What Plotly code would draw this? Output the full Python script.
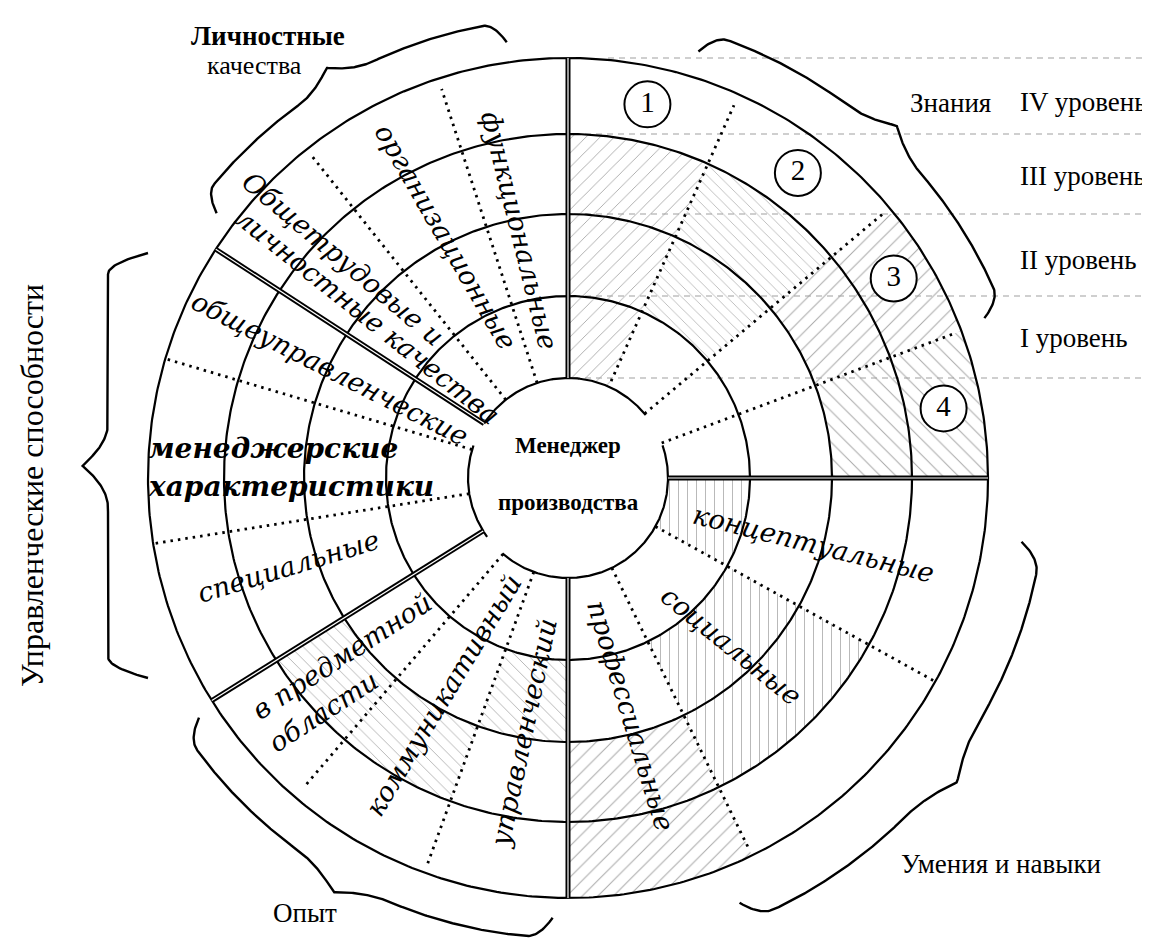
import numpy as np
import plotly.graph_objects as go

# ---------------- data (labels / categories) ----------------
center_label = ["Менеджер", "производства"]
personal_items = ["функциональные", "организационные", "Общетрудовые и", "личностные качества"]
managerial_items = ["общеуправленческие", "менеджерские", "характеристики", "специальные"]
experience_items = ["в предметной", "области", "коммуникативный", "управленческий"]
skills_items = ["профессиальные", "социальные", "концептуальные"]
knowledge_numbers = ["1", "2", "3", "4"]
level_labels = ["IV уровень", "III уровень", "II уровень", "I уровень"]
group_labels = ["Личностные", "качества", "Знания", "Умения и навыки", "Опыт",
                "Управленческие способности"]
ring_radii = [100, 182, 264, 344, 420]

# ---------------- geometry / layout constants ----------------
W, H = 1150, 951
CX, CY = 560, 470
R_IN, R_OUT = ring_radii[0], ring_radii[-1]


def P(r, deg):
    a = np.radians(deg)
    return CX + np.asarray(r) * np.cos(a), CY - np.asarray(r) * np.sin(a)


def arc(r, a0, a1, n=240):
    t = np.linspace(a0, a1, n)
    return P(r, t)


fig = go.Figure()


def add_line(xs, ys, color="black", width=2.0, dash="solid"):
    fig.add_trace(go.Scatter(x=list(xs), y=list(ys), mode="lines",
                             line=dict(color=color, width=width, dash=dash),
                             hoverinfo="skip", showlegend=False))


def sector_poly(a0, a1, r0, r1, n=90):
    xo, yo = arc(r1, a0, a1, n)
    xi, yi = arc(r0, a1, a0, n)
    return np.concatenate([xo, xi]), np.concatenate([yo, yi])


def clip_y_min(xs, ys, ymin):
    pts = list(zip(xs, ys))
    out = []
    for i in range(len(pts)):
        cur, prev = pts[i], pts[i - 1]
        cin, pin = cur[1] >= ymin, prev[1] >= ymin
        if cin != pin:
            t = (ymin - prev[1]) / (cur[1] - prev[1])
            out.append((prev[0] + t * (cur[0] - prev[0]), ymin))
        if cin:
            out.append(cur)
    return [p[0] for p in out], [p[1] for p in out]


# ---------------- hatched regions ----------------
level_y = [CY - r for r in ring_radii]  # heights of knowledge levels
hatch_regions = [
    (66, 90, 100, 344, "/", None, 10),
    (40, 66, 182, 344, "\\", None, 8),
    (20.5, 40, 264, 420, "/", level_y[2], 11),
    (0, 20.5, 264, 420, "\\", None, 11),
    (-29, 0, 100, 182, "|", None, 9),
    (-64, -29, 182, 344, "|", None, 9),
    (-90, -64, 264, 420, "/", None, 11),
    (212, 250, 264, 344, "\\", None, 9),
    (250, 270, 182, 264, "\\", None, 9),
]
for a0, a1, r0, r1, shp, ycl, sz in hatch_regions:
    xs, ys = sector_poly(a0, a1, r0, r1)
    if ycl is not None:
        xs, ys = clip_y_min(xs, ys, ycl)
    fig.add_trace(go.Scatter(
        x=list(xs), y=list(ys), mode="lines", fill="toself",
        line=dict(width=0, color="rgba(0,0,0,0)"),
        fillcolor="rgba(255,255,255,0)",
        fillpattern=dict(shape=shp, fgcolor="#a8a8a8", bgcolor="rgba(255,255,255,0)",
                         size=sz, solidity=0.09, fillmode="replace"),
        hoverinfo="skip", showlegend=False))

# ---------------- dashed level lines (right) ----------------
for i, yv in enumerate(level_y[::-1]):
    x0 = 600 if i == 0 else 566
    add_line([x0, W], [yv, yv], color="#a0a0a0", width=1.2, dash="6px,5px")

# ---------------- rings ----------------
for r in ring_radii[1:]:
    xs, ys = arc(r, 0, 360, 600)
    add_line(xs, ys, width=2.2)
for a0, a1 in [(-131, 19), (39, 147), (161, 216)]:
    xs, ys = arc(R_IN, a0, a1, 200)
    add_line(xs, ys, width=2.2)

# ---------------- dotted dividers ----------------
dotted = [(66, 106, 408), (40, 100, 411), (20.5, 100, 414),
          (-29, 100, 418), (-64, 100, 412),
          (229.5, 100, 407), (250, 100, 415),
          (163.5, 100, 418), (189, 100, 418),
          (108, 100, 409), (128.5, 100, 413)]
for ang, r0, r1 in dotted:
    xs, ys = P([r0, r1], ang)
    add_line(xs, ys, width=2.8, dash="2.5px,5px")

# ---------------- double main dividers ----------------
for ang in [90, 0, -90, 147, 212]:
    xs, ys = P([R_IN, R_OUT], ang)
    add_line(xs, ys, color="black", width=5)
    add_line(xs, ys, color="white", width=1.2)

# ---------------- numbered circles ----------------
num_angles = [78, 53, 31.5, 10.5]
nx, ny = P(382, np.array(num_angles))
fig.add_trace(go.Scatter(
    x=list(nx), y=list(ny), mode="markers+text", text=knowledge_numbers,
    textposition="middle center",
    textfont=dict(family="Liberation Serif", size=29, color="black"),
    marker=dict(size=46, color="white", line=dict(color="black", width=2)),
    hoverinfo="skip", showlegend=False))


# ---------------- braces ----------------
def brace_profile(n, A, B, e=0.06, m=0.12):
    s = np.linspace(0, 1, n)
    u = np.minimum(s, 1 - s)
    d = A * (1 - (1 - np.clip(u / e, 0, 1)) ** 2) + B * np.clip((u - (0.5 - m)) / m, 0, 1) ** 2
    return s, d


def polar_brace(a0, a1, r0, A=20, B=16):
    s, d = brace_profile(400, A, B)
    xs, ys = P(r0 + d, a0 + s * (a1 - a0))
    add_line(xs, ys, width=2.4)


polar_brace(143, 98, 440)
polar_brace(73, 21, 446)
polar_brace(-8, -68, 458)
polar_brace(213, 268, 440)
s, d = brace_profile(400, 40, 26, e=0.05, m=0.1)
add_line(140 - d, 245 + s * 425, width=2.4)


# ---------------- texts ----------------
def label(x, y, text, angle=0, size=28, family="DejaVu Serif", style="italic",
          weight="normal", xanchor="center"):
    fig.add_annotation(x=x, y=y, xref="x", yref="y", text=text, textangle=angle,
                       showarrow=False, xanchor=xanchor, yanchor="middle",
                       font=dict(family=family, size=size, color="black",
                                 style=style, weight=weight))


item_layout = {
    "функциональные": (512, 222, 76, 27, "normal"),
    "организационные": (438, 228, 60, 27, "normal"),
    "Общетрудовые и": (335, 250, 40, 27, "normal"),
    "личностные качества": (360, 308, 38.5, 27, "normal"),
    "общеуправленческие": (322, 360, 27, 27, "normal"),
    "менеджерские": (265, 440, 0, 28, "bold"),
    "характеристики": (283, 478, 0, 28, "bold"),
    "специальные": (280, 558, -17, 27, "normal"),
    "в предметной": (333, 648, -33, 27, "normal"),
    "области": (315, 703, -33, 27, "normal"),
    "коммуникативный": (435, 687, -59, 27, "normal"),
    "управленческий": (515, 725, -78, 27, "normal"),
    "профессиальные": (623, 707, 73, 27, "normal"),
    "социальные": (723, 637, 39, 27, "normal"),
    "концептуальные": (805, 535, 14, 27, "normal"),
}
for name in personal_items + managerial_items + experience_items + skills_items:
    x, y, ang, sz, wt = item_layout[name]
    label(x, y, name, ang, sz, weight=wt)

label(CX, 437, center_label[0], size=23, family="Liberation Serif", style="normal", weight="bold")
label(CX, 494, center_label[1], size=23, family="Liberation Serif", style="normal", weight="bold")

outer_layout = {
    "Личностные": (260, 28, 0, 27, "bold"),
    "качества": (246, 57, 0, 26, "normal"),
    "Знания": (942, 95, 0, 27, "normal"),
    "Умения и навыки": (993, 856, 0, 27, "normal"),
    "Опыт": (297, 905, 0, 27, "normal"),
    "Управленческие способности": (24, 478, -90, 32, "normal"),
}
for name in group_labels:
    x, y, ang, sz, wt = outer_layout[name]
    label(x, y, name, ang, sz, family="Liberation Serif", style="normal", weight=wt)

level_text_y = [94, 168, 252, 330]
for name, yv in zip(level_labels, level_text_y):
    label(1010, yv, name, 0, 27, family="Liberation Serif", style="normal", xanchor="left")

# ---------------- layout ----------------
fig.update_layout(
    width=W, height=H, margin=dict(l=0, r=0, t=0, b=0),
    paper_bgcolor="white", plot_bgcolor="white", showlegend=False,
    xaxis=dict(range=[0, W], visible=False, fixedrange=True),
    yaxis=dict(range=[H, 0], visible=False, fixedrange=True),
)
fig.write_html("out.html")
